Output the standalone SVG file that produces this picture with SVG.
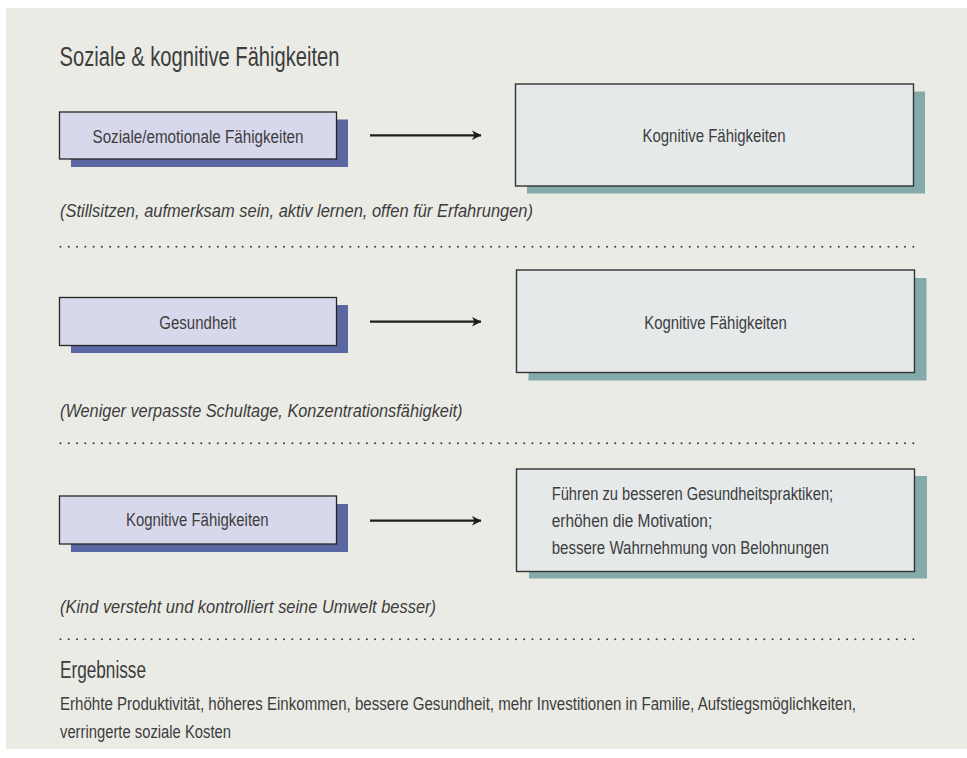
<svg xmlns="http://www.w3.org/2000/svg" width="967" height="758" viewBox="0 0 967 758">
<defs>
<style>
text{font-family:"Liberation Sans",Arial,sans-serif;fill:#3d3d3d;}
.ttl{font-size:27px;}
.lbl{font-size:18px;}
.it{font-size:19px;font-style:italic;}
.body{font-size:17.5px;}
.sm{fill:#d8d8ec;stroke:#262626;stroke-width:1.3;}
.smsh{fill:#5b67a3;}
.bg{fill:#e5e9ea;stroke:#333;stroke-width:1.4;}
.bgsh{fill:#85aaaa;}
.dots{stroke:#404040;stroke-width:2.1;stroke-dasharray:0 8.28;stroke-linecap:round;fill:none;}
.arr{stroke:#1e1e1e;stroke-width:2.3;fill:none;}
</style>
<marker id="ah" viewBox="0 0 10 10" refX="9.5" refY="5" markerWidth="10" markerHeight="10" markerUnits="userSpaceOnUse" orient="auto">
<path d="M0.5,0.3 L10,5 L0.5,9.7 L3,5 Z" fill="#1e1e1e"/>
</marker>
</defs>
<rect x="0" y="0" width="967" height="758" fill="#ffffff"/>
<rect x="6" y="8" width="961" height="741" fill="#ebebe6"/>

<text class="ttl" x="59.5" y="66" textLength="280" lengthAdjust="spacingAndGlyphs">Soziale &amp; kognitive Fähigkeiten</text>

<g id="n-sozial">
<rect class="smsh" x="71" y="119.5" width="277" height="47.5"/>
<rect class="sm" x="59.5" y="112" width="277" height="47"/>
<text class="lbl" x="198" y="142.5" text-anchor="middle" textLength="211" lengthAdjust="spacingAndGlyphs">Soziale/emotionale Fähigkeiten</text>
</g>
<g id="n-kog1">
<rect class="bgsh" x="527" y="91.5" width="398" height="102"/>
<rect class="bg" x="515.5" y="84" width="398" height="102"/>
<text class="lbl" x="714" y="141.5" text-anchor="middle" textLength="143" lengthAdjust="spacingAndGlyphs">Kognitive Fähigkeiten</text>
</g>
<text class="it" x="60" y="216.5" textLength="473" lengthAdjust="spacingAndGlyphs">(Stillsitzen, aufmerksam sein, aktiv lernen, offen für Erfahrungen)</text>

<g id="n-gesund">
<rect class="smsh" x="71" y="305" width="277" height="48"/>
<rect class="sm" x="59.5" y="297.5" width="277" height="48"/>
<text class="lbl" x="197.7" y="329" text-anchor="middle" textLength="77" lengthAdjust="spacingAndGlyphs">Gesundheit</text>
</g>
<g id="n-kog2">
<rect class="bgsh" x="528.5" y="278" width="398" height="102.5"/>
<rect class="bg" x="516.5" y="270" width="398" height="102.5"/>
<text class="lbl" x="715.5" y="329" text-anchor="middle" textLength="142.5" lengthAdjust="spacingAndGlyphs">Kognitive Fähigkeiten</text>
</g>
<text class="it" x="60" y="416.5" textLength="402.5" lengthAdjust="spacingAndGlyphs">(Weniger verpasste Schultage, Konzentrationsfähigkeit)</text>

<g id="n-kog3">
<rect class="smsh" x="71" y="504" width="277" height="48"/>
<rect class="sm" x="59.5" y="496" width="277" height="48"/>
<text class="lbl" x="197.3" y="526.3" text-anchor="middle" textLength="142.7" lengthAdjust="spacingAndGlyphs">Kognitive Fähigkeiten</text>
</g>
<g id="n-folgen">
<rect class="bgsh" x="529" y="476" width="398" height="102.5"/>
<rect class="bg" x="516.5" y="469" width="398" height="102.5"/>
<text class="lbl" x="551.7" y="499.5" textLength="281.5" lengthAdjust="spacingAndGlyphs">Führen zu besseren Gesundheitspraktiken;</text>
<text class="lbl" x="551.7" y="526.8" textLength="160.5" lengthAdjust="spacingAndGlyphs">erhöhen die Motivation;</text>
<text class="lbl" x="551.7" y="553.6" textLength="277.3" lengthAdjust="spacingAndGlyphs">bessere Wahrnehmung von Belohnungen</text>
</g>
<text class="it" x="60" y="613" textLength="376" lengthAdjust="spacingAndGlyphs">(Kind versteht und kontrolliert seine Umwelt besser)</text>

<g id="connectors">
<line class="arr" x1="370" y1="135.3" x2="481" y2="135.3" marker-end="url(#ah)"/>
<line class="arr" x1="370" y1="321.7" x2="481" y2="321.7" marker-end="url(#ah)"/>
<line class="arr" x1="370" y1="520.7" x2="481" y2="520.7" marker-end="url(#ah)"/>
</g>

<g id="separators">
<line class="dots" x1="60.5" y1="246.7" x2="914" y2="246.7"/>
<line class="dots" x1="60.5" y1="443.3" x2="914" y2="443.3"/>
<line class="dots" x1="60.5" y1="639.3" x2="914" y2="639.3"/>
</g>

<g id="ergebnisse">
<text class="ttl" x="60" y="678" style="font-size:23px" textLength="86" lengthAdjust="spacingAndGlyphs">Ergebnisse</text>
<text class="body" transform="translate(60 709.5) scale(0.79 1)" x="0" y="0" textLength="1007.6" lengthAdjust="spacingAndGlyphs">Erhöhte Produktivität, höheres Einkommen, bessere Gesundheit, mehr Investitionen in Familie, Aufstiegsmöglichkeiten,</text>
<text class="body" x="60" y="738" textLength="171" lengthAdjust="spacingAndGlyphs">verringerte soziale Kosten</text>
</g>
</svg>
